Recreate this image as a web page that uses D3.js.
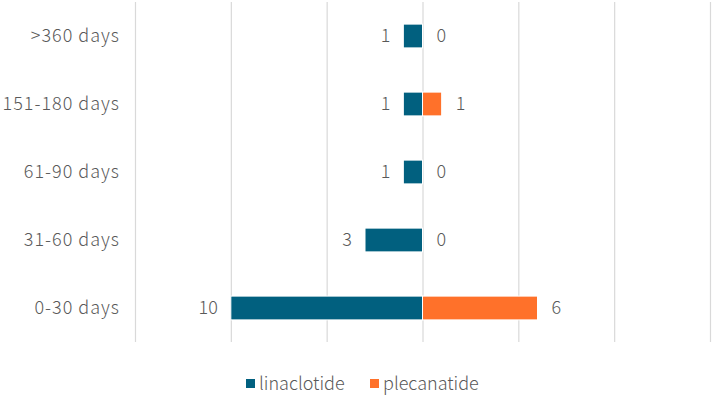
<!DOCTYPE html>
<html>
<head>
<meta charset="utf-8">
<script src="https://cdn.jsdelivr.net/npm/d3@7"></script>
<style>
  body { margin: 0; background: #fff; }
  text { font-family: "Noto Sans CJK SC", "Noto Sans", sans-serif; font-weight: 300; fill: #595959; }
</style>
</head>
<body>
<div id="chart"></div>
<script>
const categories = ["0-30 days", "31-60 days", "61-90 days", "151-180 days", ">360 days"];
const linaclotide = [10, 3, 1, 1, 1];
const plecanatide = [6, 0, 0, 1, 0];
const xTicks = [-15, -10, -5, 0, 5, 10, 15];

const width = 713, height = 397;
const colors = { linaclotide: "#01607f", plecanatide: "#ff712a" };

const svg = d3.select("#chart")
  .append("svg")
  .attr("width", width)
  .attr("height", height);

// scales
const x = d3.scaleLinear().domain([-15, 15]).range([135, 710]);
const y = d3.scaleBand()
  .domain(categories.slice().reverse())
  .range([2, 342])
  .paddingInner(0.65)
  .paddingOuter(0.325);

// gridlines
svg.append("g")
  .selectAll("line")
  .data(xTicks)
  .join("line")
  .attr("x1", d => x(d) + 0.5)
  .attr("x2", d => x(d) + 0.5)
  .attr("y1", 2)
  .attr("y2", 342)
  .attr("stroke", "#d9d9d9")
  .attr("stroke-width", 1.2);

// category labels
svg.append("g")
  .selectAll("text")
  .data(categories)
  .join("text")
  .attr("x", 120)
  .attr("y", d => y(d) + y.bandwidth() / 2)
  .attr("dy", "0.35em")
  .attr("text-anchor", "end")
  .attr("font-size", "18px")
  .attr("letter-spacing", "1px")
  .text(d => d);

const rows = categories.map((c, i) => ({ cat: c, lin: linaclotide[i], ple: plecanatide[i] }));

// linaclotide bars (left)
svg.append("g")
  .selectAll("rect")
  .data(rows)
  .join("rect")
  .attr("x", d => x(-d.lin))
  .attr("y", d => y(d.cat))
  .attr("width", d => x(0) - x(-d.lin))
  .attr("height", y.bandwidth())
  .attr("fill", colors.linaclotide)
  .attr("stroke", "#fff")
  .attr("stroke-width", 1);

// plecanatide bars (right)
svg.append("g")
  .selectAll("rect")
  .data(rows.filter(d => d.ple > 0))
  .join("rect")
  .attr("x", x(0))
  .attr("y", d => y(d.cat))
  .attr("width", d => x(d.ple) - x(0))
  .attr("height", y.bandwidth())
  .attr("fill", colors.plecanatide)
  .attr("stroke", "#fff")
  .attr("stroke-width", 1);

// value labels
svg.append("g")
  .selectAll("text")
  .data(rows)
  .join("text")
  .attr("x", d => x(-d.lin) - 13)
  .attr("y", d => y(d.cat) + y.bandwidth() / 2)
  .attr("dy", "0.35em")
  .attr("text-anchor", "end")
  .attr("font-size", "18px")
  .text(d => d.lin);

svg.append("g")
  .selectAll("text")
  .data(rows)
  .join("text")
  .attr("x", d => x(d.ple) + 14)
  .attr("y", d => y(d.cat) + y.bandwidth() / 2)
  .attr("dy", "0.35em")
  .attr("text-anchor", "start")
  .attr("font-size", "18px")
  .text(d => d.ple);

// legend
const legendItems = [
  { name: "linaclotide", x: 246 },
  { name: "plecanatide", x: 370 }
];
const legend = svg.append("g");
legendItems.forEach(item => {
  legend.append("rect")
    .attr("x", item.x)
    .attr("y", 379)
    .attr("width", 9)
    .attr("height", 9)
    .attr("fill", colors[item.name]);
  legend.append("text")
    .attr("x", item.x + 13)
    .attr("y", 384)
    .attr("dy", "0.35em")
    .attr("font-size", "18px")
    .text(item.name);
});
</script>
</body>
</html>
